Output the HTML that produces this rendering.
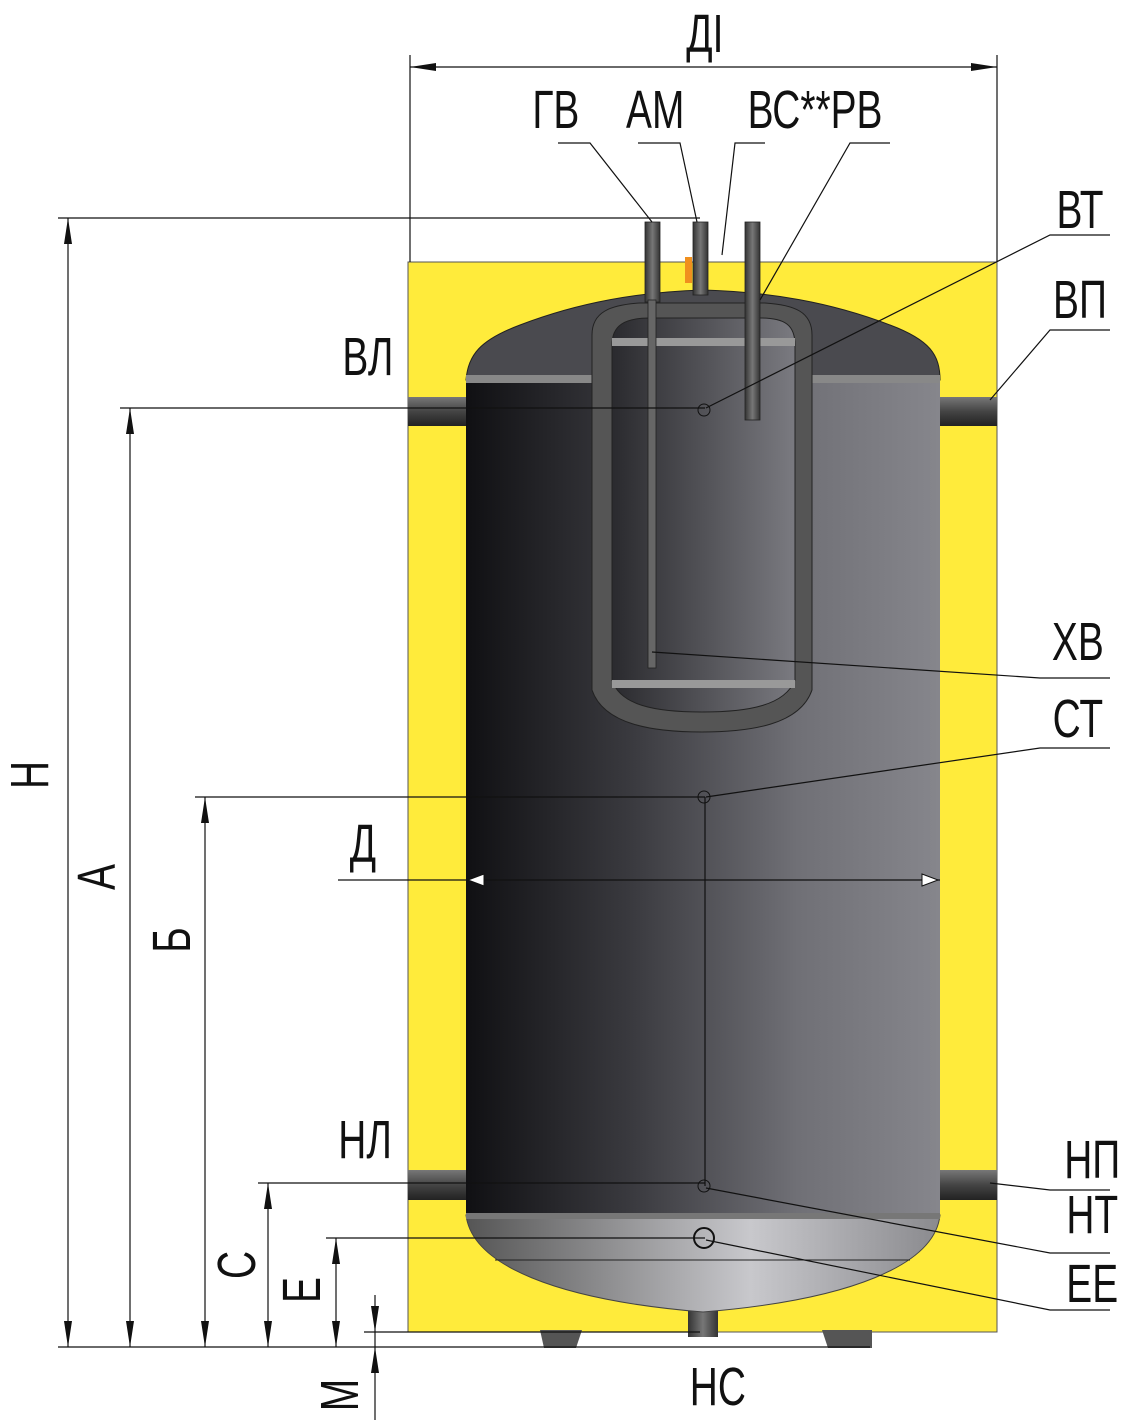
<!DOCTYPE html>
<html><head><meta charset="utf-8"><style>
html,body{margin:0;padding:0;background:#fff}
svg{display:block}
text{font-family:"Liberation Sans","DejaVu Sans Condensed",sans-serif;font-size:54px;fill:#111}
</style></head><body>
<svg width="1124" height="1424" viewBox="0 0 1124 1424" xmlns="http://www.w3.org/2000/svg">
<defs>
<linearGradient id="body" x1="0" x2="1" y1="0" y2="0">
<stop offset="0" stop-color="#101013"/><stop offset="0.35" stop-color="#3a3a3f"/><stop offset="0.7" stop-color="#707076"/><stop offset="1" stop-color="#86868c"/>
</linearGradient>
<linearGradient id="inner" x1="0" x2="1"><stop offset="0" stop-color="#2a2a2e"/><stop offset="1" stop-color="#7a7a80"/></linearGradient>
<linearGradient id="bot" x1="0" x2="1"><stop offset="0" stop-color="#555"/><stop offset="0.6" stop-color="#c8c8cc"/><stop offset="1" stop-color="#8a8a8e"/></linearGradient>
<linearGradient id="pipe" x1="0" x2="0" y1="0" y2="1"><stop offset="0" stop-color="#777"/><stop offset="0.5" stop-color="#444"/><stop offset="1" stop-color="#222"/></linearGradient>
<linearGradient id="vpipe" x1="0" x2="1"><stop offset="0" stop-color="#333"/><stop offset="0.5" stop-color="#777"/><stop offset="1" stop-color="#333"/></linearGradient>
</defs>
<rect x="408" y="262" width="589" height="1070" fill="#ffeb3b" stroke="#555" stroke-width="1"/>
<path d="M540 1330 H582 L576 1348 H544 Z" fill="#555"/>
<path d="M822 1330 H872 V1348 H828 Z" fill="#555"/>
<rect x="688" y="1305" width="30" height="32" fill="url(#vpipe)"/>
<rect x="408" y="397" width="60" height="29" fill="url(#pipe)"/>
<rect x="938" y="397" width="59" height="29" fill="url(#pipe)"/>
<rect x="408" y="1170" width="60" height="30" fill="url(#pipe)"/>
<rect x="938" y="1170" width="59" height="30" fill="url(#pipe)"/>
<path d="M466 380 C468 355 480 340 520 325 C580 302 640 292 703 290 C770 292 830 302 890 325 C930 340 940 355 940 380 Z" fill="#4a4a4f" stroke="#222"/>
<rect x="466" y="378" width="474" height="840" fill="url(#body)"/>
<rect x="466" y="375" width="474" height="8" fill="#888"/>
<path d="M466 1215 H940 C935 1265 850 1300 703 1312 C556 1300 472 1265 466 1215 Z" fill="url(#bot)" stroke="#444"/>
<rect x="466" y="1213" width="474" height="6" fill="#777"/>
<line x1="495" y1="1260" x2="910" y2="1260" stroke="#222"/>
<path d="M592 335 C592 312 610 305 640 303 H765 C795 305 812 312 812 335 V690 C800 725 750 732 702 732 C654 732 604 725 592 690 Z" fill="#555" stroke="#222"/>
<path d="M612 345 C612 325 625 318 650 318 H760 C785 318 795 325 795 345 V680 C785 705 750 712 702 712 C654 712 620 705 612 680 Z" fill="url(#inner)" stroke="#222"/>
<rect x="612" y="338" width="183" height="8" fill="#999"/>
<rect x="612" y="680" width="183" height="8" fill="#999"/>
<rect x="645" y="222" width="15" height="80" fill="url(#vpipe)" stroke="#222" stroke-width="0.8"/>
<rect x="648" y="300" width="8" height="368" fill="#666" stroke="#222" stroke-width="0.8"/>
<rect x="693" y="222" width="15" height="73" fill="url(#vpipe)" stroke="#222" stroke-width="0.8"/>
<rect x="685" y="257" width="7" height="26" fill="#f0901e"/>
<rect x="745" y="222" width="15" height="198" fill="url(#vpipe)" stroke="#222" stroke-width="0.8"/>
<circle cx="704" cy="410" r="6" fill="none" stroke="#111"/>
<circle cx="704" cy="797" r="6" fill="none" stroke="#111"/>
<circle cx="704" cy="1186" r="6" fill="none" stroke="#111"/>
<circle cx="704" cy="1238" r="10" fill="none" stroke="#111" stroke-width="2"/>
<g stroke="#111" stroke-width="1.2" fill="none">
<line x1="410" y1="55" x2="410" y2="262"/><line x1="997" y1="55" x2="997" y2="262"/>
<line x1="410" y1="67" x2="997" y2="67"/>
<line x1="58" y1="218" x2="700" y2="218"/>
<line x1="120" y1="408" x2="705" y2="408"/>
<line x1="195" y1="797" x2="705" y2="797"/>
<line x1="258" y1="1183" x2="705" y2="1183"/>
<line x1="326" y1="1238" x2="705" y2="1238"/>
<line x1="364" y1="1332" x2="700" y2="1332"/>
<line x1="58" y1="1347" x2="870" y2="1347"/>
<line x1="338" y1="880" x2="940" y2="880"/>
<line x1="705" y1="797" x2="705" y2="1186"/>
<line x1="68" y1="218" x2="68" y2="1347"/>
<line x1="130" y1="408" x2="130" y2="1347"/>
<line x1="205" y1="797" x2="205" y2="1347"/>
<line x1="268" y1="1183" x2="268" y2="1347"/>
<line x1="336" y1="1238" x2="336" y2="1347"/>
<line x1="375" y1="1295" x2="375" y2="1420"/>
<polyline points="558,143 590,143 652,222"/>
<polyline points="638,143 680,143 697,222"/>
<polyline points="765,143 735,143 722,255"/>
<polyline points="890,143 850,143 760,300"/>
<polyline points="1110,235 1050,235 706,408"/>
<polyline points="1110,330 1050,330 990,400"/>
<polyline points="1110,678 1040,678 652,652"/>
<polyline points="1110,748 1040,748 706,797"/>
<polyline points="1110,1190 1050,1190 990,1183"/>
<polyline points="1110,1253 1050,1253 706,1188"/>
<polyline points="1110,1310 1050,1310 706,1240"/>
</g>
<g fill="#111">
<path d="M410 67 l26 -4 v8z"/><path d="M997 67 l-26 -4 v8z"/>
<path d="M68 218 l-4 26 h8z"/><path d="M68 1347 l-4 -26 h8z"/>
<path d="M130 408 l-4 26 h8z"/><path d="M130 1347 l-4 -26 h8z"/>
<path d="M205 797 l-4 26 h8z"/><path d="M205 1347 l-4 -26 h8z"/>
<path d="M268 1183 l-4 26 h8z"/><path d="M268 1347 l-4 -26 h8z"/>
<path d="M336 1238 l-4 26 h8z"/><path d="M336 1347 l-4 -26 h8z"/>
<path d="M375 1332 l-4 -26 h8z"/><path d="M375 1347 l-4 26 h8z"/>
</g>
<path d="M468 880 l16 -6 v12z" fill="#fff" stroke="#111"/>
<path d="M938 880 l-16 -6 v12z" fill="#fff" stroke="#111"/>
<g transform="scale(0.72,1)" text-anchor="middle">
<text x="979" y="52">ДІ</text>
<text x="772" y="128">ГВ</text>
<text x="910" y="128">АМ</text>
<text x="1132" y="128">ВС**РВ</text>
<text x="1500" y="228">ВТ</text>
<text x="1500" y="318">ВП</text>
<text x="511" y="375">ВЛ</text>
<text x="1497" y="660">ХВ</text>
<text x="1497" y="737">СТ</text>
<text x="504" y="862">Д</text>
<text x="507" y="1158">НЛ</text>
<text x="1517" y="1178">НП</text>
<text x="1517" y="1233">НТ</text>
<text x="1517" y="1302">ЕЕ</text>
<text x="997" y="1405">НС</text>
</g>
<g text-anchor="middle">
<text transform="translate(48,775) rotate(-90) scale(0.72,1)">Н</text>
<text transform="translate(115,877) rotate(-90) scale(0.72,1)">А</text>
<text transform="translate(190,940) rotate(-90) scale(0.72,1)">Б</text>
<text transform="translate(255,1265) rotate(-90) scale(0.72,1)">С</text>
<text transform="translate(320,1290) rotate(-90) scale(0.72,1)">Е</text>
<text transform="translate(358,1395) rotate(-90) scale(0.72,1)">М</text>
</g>
</svg>
</body></html>
